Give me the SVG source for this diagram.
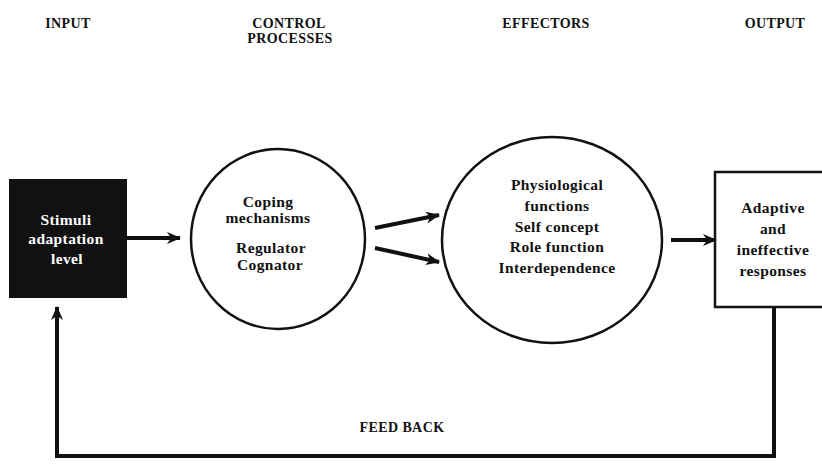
<svg xmlns="http://www.w3.org/2000/svg" width="822" height="464" viewBox="0 0 822 464">
<defs>
<style>
.hdr{font-family:"Liberation Serif","Times New Roman",serif;font-weight:bold;font-size:14px;letter-spacing:0.4px;fill:#111;text-anchor:middle}
.t{font-family:"Liberation Serif","Times New Roman",serif;font-weight:bold;font-size:15.5px;letter-spacing:0.4px;fill:#111;text-anchor:middle}
.tw{font-family:"Liberation Serif","Times New Roman",serif;font-weight:bold;font-size:15.5px;letter-spacing:0.4px;fill:#fff;text-anchor:middle}
.shape{fill:#fff;stroke:#111;stroke-width:2.5}
.con{fill:none;stroke:#111;stroke-width:4}
</style>
<marker id="ah" markerUnits="userSpaceOnUse" markerWidth="14" markerHeight="14" viewBox="0 0 14 14" refX="13" refY="7" orient="auto">
<path d="M0,1 L14,7 L0,13 L4,7 Z" fill="#111"/>
</marker>
</defs>
<rect width="822" height="464" fill="#fff"/>
<g id="headers">
<text class="hdr" x="68" y="28">INPUT</text>
<text class="hdr" x="289" y="28">CONTROL</text>
<text class="hdr" x="290" y="43">PROCESSES</text>
<text class="hdr" x="546" y="28">EFFECTORS</text>
<text class="hdr" x="775" y="28">OUTPUT</text>
</g>
<g id="input">
<rect x="10" y="180" width="116" height="117" fill="#111" stroke="#111" stroke-width="2"/>
<text class="tw" x="66" y="225">Stimuli</text>
<text class="tw" x="66" y="244">adaptation</text>
<text class="tw" x="67" y="264">level</text>
</g>
<g id="control">
<ellipse class="shape" cx="278" cy="239" rx="87" ry="90"/>
<text class="t" x="268" y="207">Coping</text>
<text class="t" x="268" y="223">mechanisms</text>
<text class="t" x="271" y="253">Regulator</text>
<text class="t" x="270" y="270">Cognator</text>
</g>
<g id="effectors">
<ellipse class="shape" cx="552" cy="240" rx="110" ry="103"/>
<text class="t" x="557" y="190">Physiological</text>
<text class="t" x="557" y="211">functions</text>
<text class="t" x="557" y="232">Self concept</text>
<text class="t" x="557" y="252">Role function</text>
<text class="t" x="557" y="273">Interdependence</text>
</g>
<g id="output">
<rect class="shape" x="715" y="172" width="120" height="135" stroke-width="3"/>
<text class="t" x="773" y="213">Adaptive</text>
<text class="t" x="773" y="234">and</text>
<text class="t" x="773" y="255">ineffective</text>
<text class="t" x="773" y="276">responses</text>
</g>
<g id="feedback-label">
<text class="hdr" x="402" y="432">FEED BACK</text>
</g>
<g id="connectors">
<line class="con" x1="126" y1="238" x2="180" y2="238" marker-end="url(#ah)"/>
<line class="con" x1="375" y1="228" x2="439" y2="215" marker-end="url(#ah)"/>
<line class="con" x1="375" y1="248" x2="439" y2="262" marker-end="url(#ah)"/>
<line class="con" x1="671" y1="240" x2="716" y2="240" marker-end="url(#ah)"/>
<path class="con" d="M774,307 V456 H57 V307" marker-end="url(#ah)"/>
</g>
</svg>
